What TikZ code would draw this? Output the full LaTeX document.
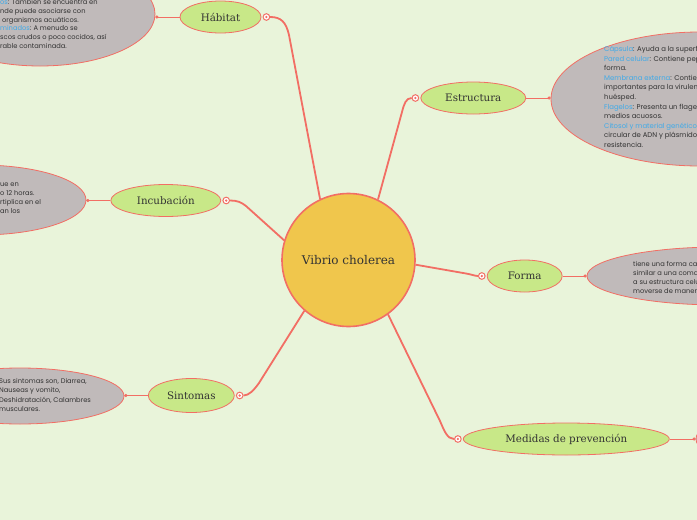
\documentclass[tikz,border=0pt]{standalone}
\usepackage{fontspec}
\setmainfont{DejaVu Serif}
\newfontfamily\notefont{Poppins}
\usetikzlibrary{positioning, arrows.meta, shapes.geometric}
\definecolor{paper}{RGB}{233,244,218}
\definecolor{corefill}{RGB}{240,198,76}
\definecolor{topicfill}{RGB}{200,232,136}
\definecolor{leaffill}{RGB}{192,186,186}
\definecolor{linkred}{RGB}{242,110,100}
\definecolor{notetext}{RGB}{50,50,50}
\definecolor{keyblue}{RGB}{64,170,232}
\newcommand{\kw}[1]{\textcolor{keyblue}{#1}}

\begin{document}
\begin{tikzpicture}[
  x=1pt, y=-1pt,
  core/.style={circle, draw=linkred, line width=1.6pt, fill=corefill, minimum size=133pt, inner sep=0pt, font=\fontsize{12}{14}\selectfont, text=black!80},
  topic/.style={ellipse, draw=linkred, line width=0.8pt, fill=topicfill, inner sep=0pt, minimum height=32pt, font=\fontsize{10.3}{12}\selectfont, text=black!80},
  leaf/.style={ellipse, draw=linkred, line width=0.8pt, fill=leaffill, inner sep=0pt},
  note/.style={anchor=base west, align=left, inner sep=0pt, text=notetext, font=\notefont\fontsize{6.7}{9.3}\selectfont},
  knob/.style={circle, draw=linkred, line width=1pt, fill=white, minimum size=6.6pt, inner sep=0pt,
    path picture={\fill[linkred] (path picture bounding box.center) circle (1.3pt);}},
  branch/.style={draw=linkred, line width=1.8pt},
  twig/.style={draw=linkred, line width=0.9pt, -{Circle[length=3pt]}},
]
\fill[paper] (0,0) rectangle (697,520);
\useasboundingbox (0,0) rectangle (697,520);

% leaf bubbles
\node[leaf, minimum width=230pt, minimum height=104pt] (hableaf) at (40,14) {};
\node[leaf, minimum width=298pt, minimum height=134pt] (estleaf) at (700,99) {};
\node[leaf, minimum width=212pt, minimum height=70pt] (incleaf) at (-20,200) {};
\node[leaf, minimum width=266pt, minimum height=58pt] (formleaf) at (720,276) {};
\node[leaf, minimum width=208pt, minimum height=56pt] (sinleaf) at (20,396) {};
\node[leaf, minimum width=200pt, minimum height=60pt] (medleaf) at (796,439) {};

% centre and topics
\node[core] (vib) at (348.5,260) {Vibrio cholerea};
\node[topic, minimum width=81pt] (hab) at (220.5,17) {Hábitat};
\node[topic, minimum width=105pt] (est) at (473.3,98) {Estructura};
\node[topic, minimum width=110pt] (inc) at (165.8,200.5) {Incubación};
\node[topic, minimum width=75pt] (forma) at (524.7,276) {Forma};
\node[topic, minimum width=86pt, minimum height=34pt] (sin) at (191.3,395.5) {Sintomas};
\node[topic, minimum width=206pt] (med) at (566.3,439) {Medidas de prevención};

\node[knob, right=1.2pt of hab] (habk) {};
\node[knob, left=1.2pt of est] (estk) {};
\node[knob, right=1.2pt of inc] (inck) {};
\node[knob, left=1.2pt of forma] (formk) {};
\node[knob, right=1.2pt of sin] (sink) {};
\node[knob, left=1.2pt of med] (medk) {};

% branches
\draw[branch] (vib.115) -- (289,35) .. controls (286,22) and (281,17) .. (habk.east);
\draw[branch] (vib.64) -- (402,112) .. controls (404,104) and (406,98) .. (estk.west);
\draw[branch] (vib.163) -- (246,206) .. controls (241,202) and (237,200.5) .. (inck.east);
\draw[branch] (vib.-4) -- (466,273.5) .. controls (472,274.5) and (475,276) .. (formk.west);
\draw[branch] (vib.-131) -- (259,383) .. controls (254,390) and (249,395.5) .. (sink.east);
\draw[branch] (vib.-54) -- (440,421) .. controls (444,430) and (447,439) .. (medk.west);

\draw[twig] (hab.west) -- (hab.west -| hableaf.east);
\draw[twig] (est.east) -- (est.east -| estleaf.west);
\draw[twig] (inc.west) -- (inc.west -| incleaf.east);
\draw[twig] (forma.east) -- (forma.east -| formleaf.west);
\draw[twig] (sin.west) -- (sin.west -| sinleaf.east);
\draw[twig] (med.east) -- (med.east -| medleaf.west);

% notes (placed by the baseline of their last line)
\node[note, font=\notefont\fontsize{6.7}{8.8}\selectfont] (habnote) at (0,48.5) {\kw{os}: También se encuentra en\\ nde puede asociarse con\\ \hspace*{2pt}organismos acuáticos.\\ \kw{minados}: A menudo se\\ scos crudos o poco cocidos, así\\ rable contaminada.};
\node[note, font=\notefont\fontsize{6.9}{9.6}\selectfont] (estnote) at (604,147.5) {\kw{Cápsula}: Ayuda a la superficie\\ \kw{Pared celular}: Contiene peptidoglicano\\ forma.\\ \kw{Membrana externa}: Contiene\\ importantes para la virulencia\\ huésped.\\ \kw{Flagelos}: Presenta un flagelo\\ medios acuosos.\\ \kw{Citosol y material genético}\\ circular de ADN y plásmidos\\ resistencia.};
\node[note] (incnote) at (0,213.9) {ue en\\ o 12 horas.\\ rtiplica en el\\ an los};
\node[note] (formnote) at (633,293.9) {tiene una forma característica\\ similar a una coma\\ a su estructura celular\\ moverse de manera};
\node[note] (sinnote) at (-1,411.4) {Sus sintomas son, Diarrea,\\ Nauseas y vomito,\\ Deshidratación, Calambres\\ musculares.};
\end{tikzpicture}
\end{document}
